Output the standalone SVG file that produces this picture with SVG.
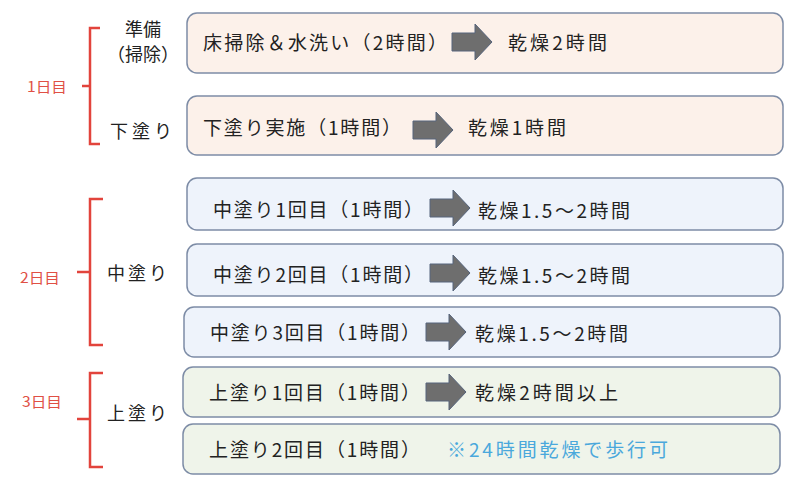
<svg xmlns="http://www.w3.org/2000/svg" width="800" height="483" viewBox="0 0 800 483">
<style>
text{font-family:"Noto Sans CJK JP","Noto Sans",sans-serif;fill:#222}
.t{font-size:19px}
.lbl{font-size:18px}
.day{font-size:14px;fill:#e05045}
.note{fill:#4aa8dc}
.box{stroke:#7d8ca6;stroke-width:1.5}
.p{fill:#fcf1ea}.b{fill:#eef3fb}.g{fill:#eff4ea}
.br{fill:none;stroke:#e2443c;stroke-width:2.5}
.ar{fill:#6e6e6e;stroke:#56647c;stroke-width:1}
</style>
<defs>
<path id="arr" d="M0,-9 H23 V-18 L40,0 L23,18 V9 H0 Z"/>
</defs>
<g id="brackets">
<path class="br" d="M100,28 H90 V144 H100 M90,86 H82"/>
<path class="br" d="M103,199 H90 V345 H103 M90,272 H77"/>
<path class="br" d="M103,373 H90 V467 H103 M90,419 H77"/>
</g>
<g id="day1"><text class="day" x="27" y="92" textLength="40" lengthAdjust="spacingAndGlyphs">1日目</text></g>
<g id="day2"><text class="day" x="20" y="283" textLength="40" lengthAdjust="spacingAndGlyphs">2日目</text></g>
<g id="day3"><text class="day" x="22" y="407" textLength="40" lengthAdjust="spacingAndGlyphs">3日目</text></g>
<g id="lbl-junbi"><text class="lbl" x="143" y="36" text-anchor="middle">準備</text><text class="lbl" x="143" y="61" text-anchor="middle" font-size="17">（掃除）</text></g>
<g id="lbl-shitanuri"><text class="lbl" x="110" y="138" textLength="62" lengthAdjust="spacing">下塗り</text></g>
<g id="lbl-nakanuri"><text class="lbl" x="107" y="280" textLength="60" lengthAdjust="spacing">中塗り</text></g>
<g id="lbl-uwanuri"><text class="lbl" x="107" y="420" textLength="60" lengthAdjust="spacing">上塗り</text></g>

<g id="row1">
<rect class="box p" x="187" y="13" width="596" height="60" rx="10"/>
<text class="t" x="203" y="50" textLength="244" lengthAdjust="spacing">床掃除＆水洗い（2時間）</text>
<text class="t" x="508" y="50" textLength="99" lengthAdjust="spacing">乾燥2時間</text>
</g>
<g id="row2">
<rect class="box p" x="187" y="96" width="596" height="59" rx="10"/>
<text class="t" x="203" y="135" textLength="198" lengthAdjust="spacing">下塗り実施（1時間）</text>
<text class="t" x="468" y="135" textLength="98" lengthAdjust="spacing">乾燥1時間</text>
</g>
<g id="row3">
<rect class="box b" x="187" y="178" width="596" height="52" rx="10"/>
<text class="t" x="213" y="217" textLength="210" lengthAdjust="spacing">中塗り1回目（1時間）</text>
<text class="t" x="478" y="218" textLength="152" lengthAdjust="spacing">乾燥1.5～2時間</text>
</g>
<g id="row4">
<rect class="box b" x="187" y="244" width="596" height="52" rx="10"/>
<text class="t" x="213" y="282" textLength="210" lengthAdjust="spacing">中塗り2回目（1時間）</text>
<text class="t" x="478" y="283" textLength="152" lengthAdjust="spacing">乾燥1.5～2時間</text>
</g>
<g id="row5">
<rect class="box b" x="184" y="307" width="596" height="50" rx="10"/>
<text class="t" x="210" y="340" textLength="210" lengthAdjust="spacing">中塗り3回目（1時間）</text>
<text class="t" x="475" y="341" textLength="153" lengthAdjust="spacing">乾燥1.5～2時間</text>
</g>
<g id="row6">
<rect class="box g" x="183" y="367" width="597" height="50" rx="10"/>
<text class="t" x="209" y="400" textLength="211" lengthAdjust="spacing">上塗り1回目（1時間）</text>
<text class="t" x="475" y="400" textLength="143" lengthAdjust="spacing">乾燥2時間以上</text>
</g>
<g id="row7">
<rect class="box g" x="183" y="424" width="597" height="50" rx="10"/>
<text class="t" x="209" y="457" textLength="211" lengthAdjust="spacing">上塗り2回目（1時間）</text>
<text class="t note" x="447" y="457" textLength="221" lengthAdjust="spacing">※24時間乾燥で歩行可</text>
</g>

<g id="connectors">
<use href="#arr" class="ar" transform="translate(452,42)"/>
<use href="#arr" class="ar" transform="translate(413,130)"/>
<use href="#arr" class="ar" transform="translate(430,208)"/>
<use href="#arr" class="ar" transform="translate(430,273)"/>
<use href="#arr" class="ar" transform="translate(426,332)"/>
<use href="#arr" class="ar" transform="translate(426,392)"/>
</g>
</svg>
